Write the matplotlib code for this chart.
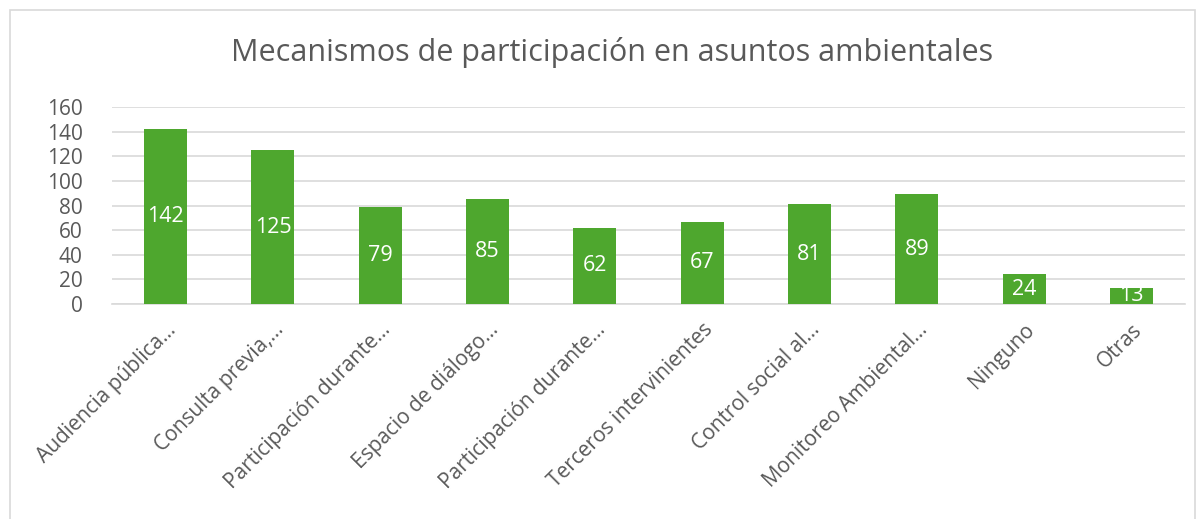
import matplotlib
matplotlib.use("Agg")
import matplotlib.pyplot as plt
from matplotlib.patches import Rectangle

categories = ["Audiencia pública…", "Consulta previa,…", "Participación durante…",
              "Espacio de diálogo…", "Participación durante…", "Terceros intervinientes",
              "Control social al…", "Monitoreo Ambiental…", "Ninguno", "Otras"]
values = [142, 125, 79, 85, 62, 67, 81, 89, 24, 13]
yticks = [0, 20, 40, 60, 80, 100, 120, 140, 160]
title = "Mecanismos de participación en asuntos ambientales"

plt.rcParams['font.family'] = ['Open Sans', 'DejaVu Sans']
txt = "#595959"
green = "#4EA72E"

fig = plt.figure(figsize=(12, 5.19), dpi=100)
ax = fig.add_axes([112/1200, 1-304/519, (1185-112)/1200, (304-107)/519])

x = list(range(len(categories)))
bars = ax.bar(x, values, width=0.4, color=green, zorder=3)
for xi, v in zip(x, values):
    ax.text(xi, v/2, str(v), ha='center', va='center', color='white', fontsize=15.5, zorder=4)

ax.set_xlim(-0.5, len(categories)-0.5)
ax.set_ylim(0, 160)
ax.set_yticks(yticks)
ax.set_yticklabels([str(t) for t in yticks], fontsize=15, color=txt)
ax.yaxis.grid(True, color="#D9D9D9", linewidth=1.2, zorder=0)
ax.set_xticks(x)
ax.set_xticklabels(categories, rotation=45, ha='right', rotation_mode='anchor',
                   fontsize=15, color=txt)
ax.tick_params(axis='both', length=0)
ax.tick_params(axis='x', pad=11)
ax.tick_params(axis='y', pad=21)
for s in ['top', 'right', 'left']:
    ax.spines[s].set_visible(False)
ax.spines['bottom'].set_color("#D9D9D9")
ax.spines['bottom'].set_linewidth(1.2)

fig.text(612/1200, 1-52/519, title, ha='center', va='center', fontsize=22, color=txt)

fig.patches.append(Rectangle((10/1200, -0.1), 1185/1200, (519-10)/519+0.1,
                             transform=fig.transFigure, fill=False,
                             edgecolor="#D9D9D9", linewidth=1.2))

fig.savefig("out.png", dpi=100)
